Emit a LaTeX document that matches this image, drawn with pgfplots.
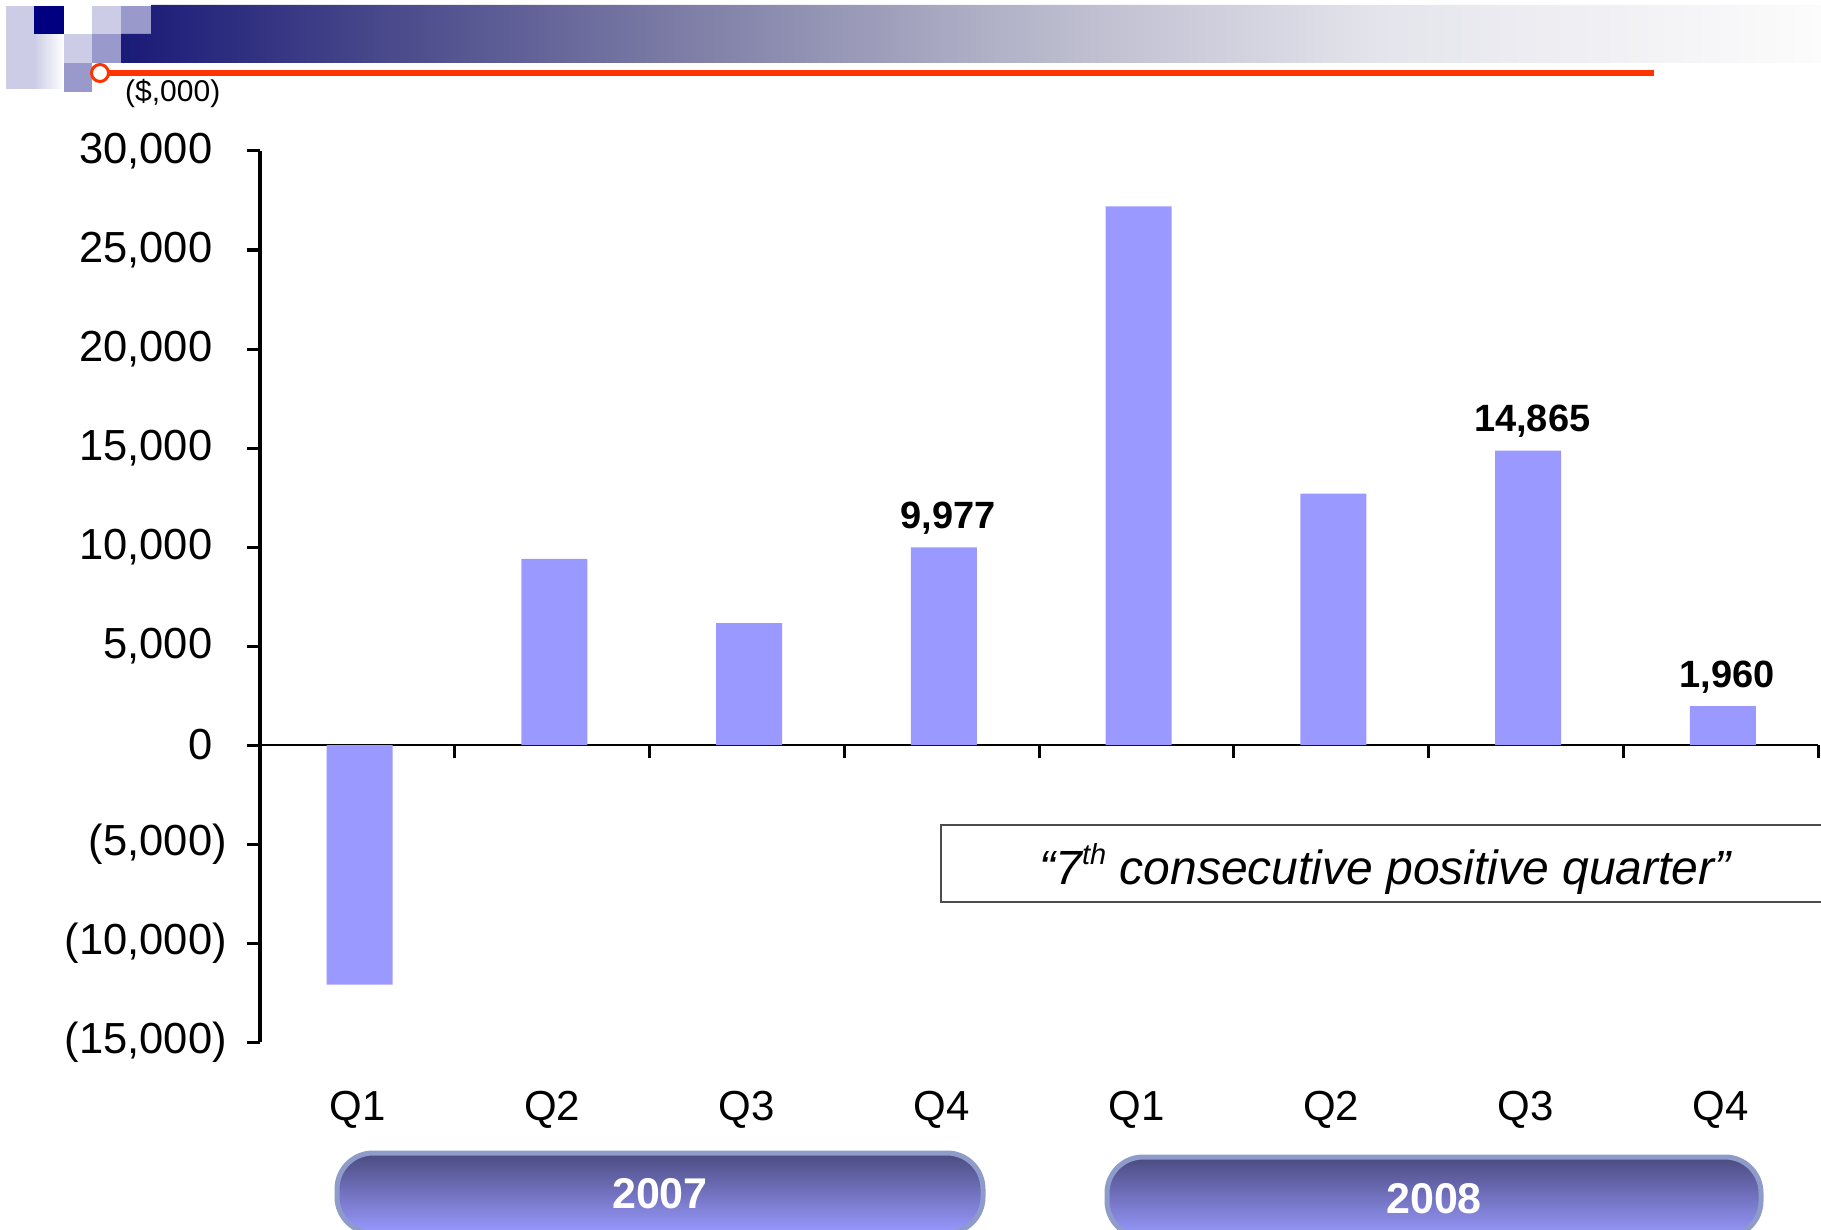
\documentclass[border=0pt]{standalone}
\usepackage{fontspec}
\setmainfont{Liberation Sans}
\usepackage{pgfplots}
\usepackage{pgfplotstable}
\pgfplotsset{compat=1.18}
\definecolor{barblue}{HTML}{9999FF}
\definecolor{navysq}{HTML}{000080}
\definecolor{lav}{HTML}{CCCCE6}
\definecolor{medlav}{HTML}{9999CC}
\definecolor{redline}{HTML}{FF3300}
\definecolor{pillborder}{HTML}{8E9BCB}
\definecolor{pilltop}{HTML}{4B4B80}
\definecolor{pillbot}{HTML}{9999FF}
\definecolor{bn0}{HTML}{1A1A78}
\definecolor{bn1}{HTML}{4A4A8C}
\definecolor{bn2}{HTML}{8080A8}
\definecolor{bn3}{HTML}{B8B8CC}
\definecolor{bn4}{HTML}{E4E4EC}
\definecolor{bn5}{HTML}{FCFCFC}
\pgfdeclarehorizontalshading{banner}{100bp}{color(0bp)=(bn0); color(25bp)=(bn0); color(33bp)=(bn1); color(42bp)=(bn2); color(52bp)=(bn3); color(62bp)=(bn4); color(75bp)=(bn5); color(100bp)=(bn5)}

\pgfplotstableread{
x y lab
1 -12100 {}
2 9400 {}
3 6150 {}
4 9977 {9,977}
5 27200 {}
6 12700 {}
7 14865 {14,865}
8 1960 {1,960}
}\datatable

\begin{document}
\begin{tikzpicture}
\begin{scope}[x=1pt,y=-1pt]
  % header squares
  \fill[lav] (6,6) rectangle (34,89);
  \shade[left color=lav, right color=white] (34,34) rectangle (64,89);
  \fill[navysq] (34,6) rectangle (64,34);
  \fill[lav] (92,6) rectangle (121,34);
  \fill[medlav] (121,6) rectangle (151,34);
  \fill[lav] (64,34) rectangle (92,63);
  \fill[medlav] (92,34) rectangle (121,63);
  \fill[medlav] (64,63) rectangle (92,92);
  % banner
  \shade[shading=banner] (121,34) -- (151,34) -- (151,5) -- (1821,5) -- (1821,63) -- (121,63) -- cycle;
  % red line and circle
  \draw[redline, line width=6] (100,73) -- (1654,73);
  \draw[redline, fill=white, line width=3] (100,73) circle (8.5);
  \node[anchor=base west, inner sep=0pt, font=\fontsize{30}{34}\selectfont] at (125,102) {(\$,000)};
\end{scope}

\begin{axis}[
  at={(260pt,-1042pt)}, anchor=south west,
  scale only axis, width=1558pt, height=891pt,
  xmin=0.5, xmax=8.5, ymin=-15000, ymax=30000,
  scaled y ticks=false,
  axis x line=middle, axis y line=left,
  axis line style={-},
  x axis line style={line width=2.5pt},
  y axis line style={line width=3.5pt},
  tick align=outside,
  major tick length=13pt,
  tick style={black, line width=3pt},
  xtick={1.5,2.5,3.5,4.5,5.5,6.5,7.5,8.5},
  xticklabels={Q1,Q2,Q3,Q4,Q1,Q2,Q3,Q4},
  xticklabel style={font=\fontsize{42}{50}\selectfont, anchor=base, inner sep=0pt, xshift=-97.375pt, yshift=-362pt},
  ytick={-15000,-10000,-5000,0,5000,10000,15000,20000,25000,30000},
  yticklabels={{(15,000)},{(10,000)},{(5,000)},{0\hphantom{)}},{5,000\hphantom{)}},{10,000\hphantom{)}},{15,000\hphantom{)}},{20,000\hphantom{)}},{25,000\hphantom{)}},{30,000\hphantom{)}}},
  yticklabel style={font=\fontsize{43.5}{50}\selectfont, anchor=east, inner sep=0pt, xshift=-20pt},
  ybar, bar width=66pt, bar shift=2.3pt,
  clip=false,
  nodes near coords, point meta=explicit symbolic,
  every node near coord/.append style={font=\fontsize{38}{44}\selectfont\bfseries, anchor=base, inner sep=0pt, yshift=19pt, xshift=4pt},
]
\addplot[fill=barblue, draw=none] table[x=x,y=y,meta=lab]{\datatable};
\end{axis}

\begin{scope}[x=1pt,y=-1pt]
  % annotation box
  \draw[black!70, line width=2] (941,825) rectangle (1840,902);
  \node[inner sep=0pt, font=\fontsize{48}{54}\selectfont\itshape] at (1385,869) {“7\raisebox{0.42em}{\fontsize{29}{30}\selectfont th} consecutive positive quarter”};
  % pills
  \shadedraw[top color=pilltop, bottom color=pillbot, draw=pillborder, line width=5, rounded corners=36] (337,1153) rectangle (983,1233);
  \node[anchor=base, inner sep=0pt, text=white, font=\fontsize{43}{48}\selectfont\bfseries] at (660,1208) {2007};
  \shadedraw[top color=pilltop, bottom color=pillbot, draw=pillborder, line width=5, rounded corners=36] (1107,1157) rectangle (1761,1237);
  \node[anchor=base, inner sep=0pt, text=white, font=\fontsize{43}{48}\selectfont\bfseries] at (1434,1213) {2008};
\end{scope}
\pgfresetboundingbox
\path[use as bounding box] (0,0) rectangle (1821pt,-1230pt);
\end{tikzpicture}
\end{document}
